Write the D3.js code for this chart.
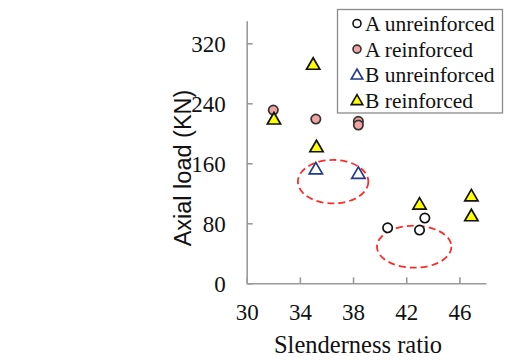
<!DOCTYPE html>
<html><head><meta charset="utf-8">
<script src="https://cdn.jsdelivr.net/npm/d3@7"></script>
<style>body{margin:0;background:#fff}svg{display:block}
.serif{font-family:"Liberation Serif","Times New Roman",Times,serif}
.sans{font-family:"Liberation Sans",Arial,Helvetica,sans-serif}
</style>
</head><body>
<svg id="chart" width="505" height="360"></svg>
<script>
// ---- data ----
const xTicks = [30, 34, 38, 42, 46];
const yTicks = [0, 80, 160, 240, 320];
const seriesNames = ["A unreinforced", "A reinforced", "B unreinforced", "B reinforced"];
const aUnreinforcedX = [40.6, 43.0, 43.4];
const aUnreinforcedY = [74, 71, 87];
const aReinforcedX = [32.0, 35.2, 38.4, 38.4];
const aReinforcedY = [231, 219, 216, 211];
const bUnreinforcedX = [35.2, 38.4];
const bUnreinforcedY = [151, 145];
const bReinforcedX = [32.05, 35.0, 35.25, 43.0, 46.9, 46.9];
const bReinforcedY = [217.5, 290.5, 180.5, 104, 115, 88.5];
// highlighted regions (data units): centre x, centre y, half-width, half-height
const ellipseCX = [36.5, 42.6];
const ellipseCY = [135.5, 48.8];
const ellipseRX = [2.65, 2.8];
const ellipseRY = [29, 28];

// ---- layout ----
const svg = d3.select("#chart");
const x = d3.scaleLinear().domain([30, 48]).range([246.7, 486]);
const y = d3.scaleLinear().domain([0, 350]).range([283.3, 20.8]);
const axisColor = "#9a9a9a";

// axes
const gx = svg.append("g").attr("transform", `translate(0,${y(0)})`)
  .call(d3.axisBottom(x).tickValues(xTicks).tickSizeInner(-6).tickSizeOuter(0).tickPadding(19));
const gy = svg.append("g").attr("transform", `translate(${x(30)},0)`)
  .call(d3.axisLeft(y).tickValues(yTicks).tickSizeInner(-6).tickSizeOuter(0).tickPadding(21));
[gx, gy].forEach(g => {
  g.attr("font-family", null).attr("font-size", null);
  g.select(".domain").attr("stroke", axisColor).attr("stroke-width", 1.6);
  g.selectAll(".tick line").attr("stroke", axisColor).attr("stroke-width", 1.6);
  g.selectAll(".tick text").attr("class", "serif").attr("fill", "#111").attr("font-size", 23);
});
gx.selectAll(".tick text").attr("dy", "0.75em");
gy.selectAll(".tick text").attr("dy", "0.36em");

// axis titles
svg.append("text").attr("class", "serif").attr("x", 358).attr("y", 353).attr("text-anchor", "middle")
  .attr("font-size", 24.5).attr("fill", "#111").text("Slenderness ratio");
svg.append("text").attr("class", "sans").attr("transform", "translate(191,168) rotate(-90)").attr("text-anchor", "middle")
  .attr("font-size", 23.5).attr("fill", "#111").text("Axial load (KN)");

// ellipses
svg.append("g").selectAll("ellipse").data(ellipseCX).join("ellipse")
  .attr("cx", (d, i) => x(d)).attr("cy", (d, i) => y(ellipseCY[i]))
  .attr("rx", (d, i) => x(d + ellipseRX[i]) - x(d))
  .attr("ry", (d, i) => y(0) - y(ellipseRY[i]))
  .attr("fill", "none").attr("stroke", "#ff2a2a").attr("stroke-width", 1.8)
  .attr("stroke-dasharray", "7,4");

// markers
const styles = [
  {shape: "circle", fill: "#ffffff", stroke: "#111"},
  {shape: "circle", fill: "#f4a3a3", stroke: "#333"},
  {shape: "triangle", fill: "#ffffff", stroke: "#1f3b88"},
  {shape: "triangle", fill: "#ffff00", stroke: "#111"}
];
const seriesX = [aUnreinforcedX, aReinforcedX, bUnreinforcedX, bReinforcedX];
const seriesY = [aUnreinforcedY, aReinforcedY, bUnreinforcedY, bReinforcedY];
const circlePath = d3.symbol().type(d3.symbolCircle).size(Math.PI * 4.7 * 4.7);
const triPath = d3.symbol().type(d3.symbolTriangle).size(76);
const plot = svg.append("g");
seriesX.forEach((xs, si) => {
  const st = styles[si];
  plot.append("g").selectAll("path").data(xs).join("path")
    .attr("d", st.shape === "circle" ? circlePath : triPath)
    .attr("transform", (d, i) => `translate(${x(d)},${y(seriesY[si][i])})`)
    .attr("fill", st.fill).attr("stroke", st.stroke).attr("stroke-width", 1.7);
});

// legend
const lg = svg.append("g");
lg.append("rect").attr("x", 337.5).attr("y", 9.5).attr("width", 165).attr("height", 103.5)
  .attr("fill", "#fff").attr("stroke", "#8a8a8a").attr("stroke-width", 1.3);
const legCircle = d3.symbol().type(d3.symbolCircle).size(Math.PI * 4 * 4);
const legTri = d3.symbol().type(d3.symbolTriangle).size(58);
seriesNames.forEach((name, i) => {
  const cy = 23.5 + i * 25.6;
  const st = styles[i];
  lg.append("path").attr("d", st.shape === "circle" ? legCircle : legTri)
    .attr("transform", `translate(357,${cy + (st.shape === "circle" ? 0 : 1)})`)
    .attr("fill", st.fill).attr("stroke", st.stroke).attr("stroke-width", 1.6);
  lg.append("text").attr("class", "serif").attr("x", 365).attr("y", cy).attr("dy", "0.35em")
    .attr("font-size", 21.5).attr("fill", "#111").text(name);
});
</script>
</body></html>
